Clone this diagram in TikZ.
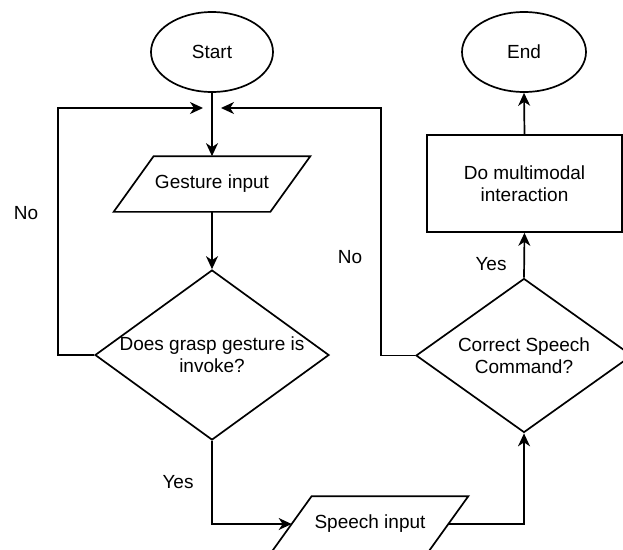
\documentclass[tikz,border=0pt]{standalone}
\usepackage{fontspec}
\setmainfont{Liberation Sans}
\usetikzlibrary{shapes.geometric,arrows.meta}
\begin{document}
\begin{tikzpicture}[x=1pt,y=-1pt,line width=1.7pt,
  font=\fontsize{19}{22}\selectfont,
  term/.style={ellipse,draw,minimum width=122pt,minimum height=80pt,inner sep=0pt},
  decision/.style={diamond,draw,inner sep=0pt},
  proc/.style={rectangle,draw,minimum width=195pt,minimum height=97pt,inner sep=0pt,align=center},
  io/.style={minimum width=155pt,minimum height=54pt,inner sep=0pt},
  txt/.style={align=center,inner sep=0pt},
  arr/.style={-{Stealth[length=13pt,width=12pt,inset=4pt]}},
  lbl/.style={anchor=base,inner sep=0pt}]
\useasboundingbox (0,0) rectangle (623,549);
% shapes
\node[term] (start) at (212,52) {Start};
\node[term,minimum width=124pt] (end) at (524,52) {End};
\node[io] (gin) at (212,184) {Gesture input};
\draw ([xshift=20pt]gin.north west) -- ([xshift=20pt]gin.north east) -- ([xshift=-20pt]gin.south east) -- ([xshift=-20pt]gin.south west) -- cycle;
\node[io] (sin) at (370,524) {Speech input};
\draw ([xshift=20pt]sin.north west) -- ([xshift=20pt]sin.north east) -- ([xshift=-20pt]sin.south east) -- ([xshift=-20pt]sin.south west) -- cycle;
\node[decision,minimum width=234pt,minimum height=170pt] (dec1) at (212,355) {};
\node[txt] (dec1t) at (dec1.center) {Does grasp gesture is\\invoke?};
\node[decision,minimum width=216pt,minimum height=154pt] (dec2) at (524,355.5) {};
\node[txt] (dec2t) at (dec2.center) {Correct Speech\\Command?};
\node[proc] (act) at (524.5,183.5) {Do multimodal\\interaction};
\coordinate (merge) at (212,108);
% connectors
\draw[arr] (start.south) -- (start.south |- gin.north);
\draw[arr] (gin.south) -- (dec1.north);
\draw[arr] (dec1.west) -- ++(-36,0) |- ([xshift=-9pt]merge);
\draw[arr] (dec2.west) -- ++(-34,0) |- ([xshift=9pt]merge);
\draw[arr] (dec1.south) |- (sin.west);
\draw[arr] (sin.east) -| (dec2.south);
\draw[arr] (dec2.north) -- (act.south);
\draw[arr] (act.north) -- (end.south);
% labels
\node[lbl] (no1) at (26,219) {No};
\node[lbl] (no2) at (350,263) {No};
\node[lbl] (yes1) at (491,270) {Yes};
\node[lbl] (yes2) at (178,488) {Yes};
\end{tikzpicture}
\end{document}
